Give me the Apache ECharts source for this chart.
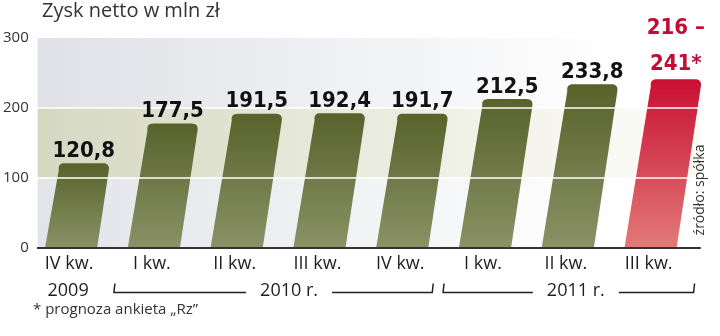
<!DOCTYPE html>
<html><head><meta charset="utf-8">
<script src="https://cdn.jsdelivr.net/npm/echarts@6/dist/echarts.min.js"></script>
<style>html,body{margin:0;padding:0;background:#fff}#c{width:720px;height:336px}</style>
</head><body><div id="c"></div>
<script>
// ---- data ----
const categories = ['IV kw.', 'I kw.', 'II kw.', 'III kw.', 'IV kw.', 'I kw.', 'II kw.', 'III kw.'];
const values = [120.8, 177.5, 191.5, 192.4, 191.7, 212.5, 233.8, 241];
const valueLabels = ['120,8', '177,5', '191,5', '192,4', '191,7', '212,5', '233,8', '216 –\n241*'];
const forecastFlags = [0, 0, 0, 0, 0, 0, 0, 1];
const yTicks = [0, 100, 200, 300];
const gridLineValues = [100, 200];
const titleText = 'Zysk netto w mln zł';
const footnoteText = '* prognoza ankieta „Rz”';
const sourceText = 'źródło: spółka';
const yearLabels = ['2009', '2010 r.', '2011 r.'];
const yearFrom = [0, 1, 5];
const yearTo = [0, 4, 7];

// ---- styles ----
const OLIVE_TOP = '#58622a', OLIVE_BOT = '#8a9266';
const RED_TOP = '#c90f33', RED_BOT = '#e27a78';
const TXT = '#1e1e1e';
const FONT = '"Open Sans", "DejaVu Sans", sans-serif';
const BOLD = '"DejaVu Sans Condensed", "DejaVu Sans", sans-serif';
const SKEW = 0.15, OFF0 = -8;

const chart = echarts.init(document.getElementById('c'), null, {renderer: 'canvas'});

function quad(p0, p1, p2, n) {
  const out = [];
  for (let k = 0; k <= n; k++) {
    const t = k / n, a = (1 - t) * (1 - t), b = 2 * (1 - t) * t, c = t * t;
    out.push([a * p0[0] + b * p1[0] + c * p2[0], a * p0[1] + b * p1[1] + c * p2[1]]);
  }
  return out;
}

function geom(api) {
  const i = api.value(0), v = api.value(1);
  const base = api.coord([i, 0]);
  const top = api.coord([i, v]);
  const band = api.size([1, 0])[0];
  const h = base[1] - top[1];
  const bx = base[0] + OFF0, tx = bx + SKEW * h;
  return {i, base, top, w: band * 0.63, bx, tx};
}

function renderBar(params, api) {
  const {i, base, top, w, bx, tx} = geom(api);
  const r = 7;
  const bl = [bx - w / 2, base[1]], br = [bx + w / 2, base[1]];
  const tl = [tx - w / 2, top[1]], tr = [tx + w / 2, top[1]];
  let pts = [bl];
  pts = pts.concat(quad([tl[0] + SKEW * r, tl[1] + r], tl, [tl[0] + r, tl[1]], 8));
  pts = pts.concat(quad([tr[0] - r, tr[1]], tr, [tr[0] - SKEW * r, tr[1] + r], 8));
  pts.push(br);
  const fc = forecastFlags[i];
  const fill = new echarts.graphic.LinearGradient(0, 0, 0, 1, [
    {offset: 0, color: fc ? RED_TOP : OLIVE_TOP},
    {offset: 1, color: fc ? RED_BOT : OLIVE_BOT}
  ]);
  return {type: 'polygon', shape: {points: pts}, style: {fill: fill}};
}

function renderLabel(params, api) {
  const {i, top, tx} = geom(api);
  const fc = forecastFlags[i];
  return {type: 'text', x: tx, y: top[1] + (fc ? 3 : 1),
    style: {text: valueLabels[i], fill: fc ? '#c20b35' : '#111', font: 'bold 22px ' + BOLD,
      align: 'center', verticalAlign: 'bottom', lineHeight: fc ? 36 : 26}};
}

const bgLeft = ['#dfe1e6', '#d5d8c1', '#e2e4e9'];
const bgRight = ['#ffffff', '#fafaf5', '#ffffff'];
function hGrad(a, b) {
  return new echarts.graphic.LinearGradient(0, 0, 1, 0, [{offset: 0, color: a}, {offset: 0.88, color: b}, {offset: 1, color: b}]);
}

const barData = values.map((v, i) => [i, v]);

chart.setOption({
  animation: false,
  grid: {left: 36, right: 20, top: 38, bottom: 88.5, containLabel: false},
  xAxis: {
    type: 'category', data: categories, z: 5,
    axisLine: {show: true, lineStyle: {color: '#333', width: 2}},
    axisTick: {show: false},
    axisLabel: {color: TXT, fontFamily: FONT, fontSize: 18, margin: 7, padding: [0, 20, 0, 0]},
    splitLine: {show: false}
  },
  yAxis: {
    type: 'value', min: yTicks[0], max: yTicks[yTicks.length - 1], interval: 100,
    axisLine: {show: false}, axisTick: {show: false},
    axisLabel: {color: '#333', fontFamily: FONT, fontSize: 15, margin: 9},
    splitLine: {show: false}
  },
  series: [
    {
      type: 'line', data: [], z: 1, silent: true,
      markArea: {
        silent: true,
        data: [
          [{yAxis: yTicks[2], itemStyle: {color: hGrad(bgLeft[0], bgRight[0])}}, {yAxis: yTicks[3]}],
          [{yAxis: yTicks[1], itemStyle: {color: hGrad(bgLeft[1], bgRight[1])}}, {yAxis: yTicks[2]}],
          [{yAxis: yTicks[0], itemStyle: {color: hGrad(bgLeft[2], bgRight[2])}}, {yAxis: yTicks[1]}]
        ]
      }
    },
    {type: 'custom', z: 2, renderItem: renderBar, data: barData},
    {
      type: 'line', data: [], z: 3, silent: true,
      markLine: {
        silent: true, symbol: ['none', 'none'], label: {show: false},
        lineStyle: {color: 'rgba(255,255,255,0.75)', width: 2, type: 'solid'},
        data: gridLineValues.map(v => ({yAxis: v}))
      }
    },
    {type: 'custom', z: 10, zlevel: 1, renderItem: renderLabel, data: barData}
  ]
});

// decorations positioned from the axis scale
function drawExtras() {
  const cx = i => chart.convertToPixel({xAxisIndex: 0}, i);
  const y0 = chart.convertToPixel({yAxisIndex: 0}, 0);
  const ctx = document.createElement('canvas').getContext('2d');
  ctx.font = '18px ' + FONT;
  const yY = y0 + 43, lineY = y0 + 45;
  const g = [];
  g.push({type: 'text', left: 42, top: 1, style: {text: titleText, fill: '#333', font: '20px ' + FONT}});
  g.push({type: 'text', left: 33, top: 302, style: {text: footnoteText, fill: '#333', font: '15px ' + FONT}});
  g.push({type: 'text', x: 700, y: 190, rotation: Math.PI / 2,
    style: {text: sourceText, fill: '#333', font: '14px ' + FONT, align: 'center', verticalAlign: 'middle'}});
  const leftOff = [0, -48, -50], rightOff = [0, 22, 35];
  const centers = [cx(0) - 11, (cx(1) + cx(4)) / 2 + 3, cx(6)];
  yearLabels.forEach((t, k) => {
    g.push({type: 'text', x: centers[k], y: yY,
      style: {text: t, fill: TXT, font: '18px ' + FONT, align: 'center', verticalAlign: 'middle'}});
    if (yearFrom[k] !== yearTo[k]) {
      const tw = ctx.measureText(t).width;
      const lx = cx(yearFrom[k]) + leftOff[k], rx = cx(yearTo[k]) + rightOff[k];
      const gap = 14;
      g.push({type: 'polyline', shape: {points: [[lx + 1, lineY - 9], [lx, lineY], [centers[k] - tw / 2 - gap, lineY]]},
        style: {stroke: '#222', lineWidth: 1.5, fill: null}});
      g.push({type: 'polyline', shape: {points: [[centers[k] + tw / 2 + gap, lineY], [rx, lineY], [rx + 1, lineY - 9]]},
        style: {stroke: '#222', lineWidth: 1.5, fill: null}});
    }
  });
  g.forEach(e => { e.z = 100; });
  chart.setOption({graphic: {elements: g}});
}
drawExtras();
</script>
</body></html>
